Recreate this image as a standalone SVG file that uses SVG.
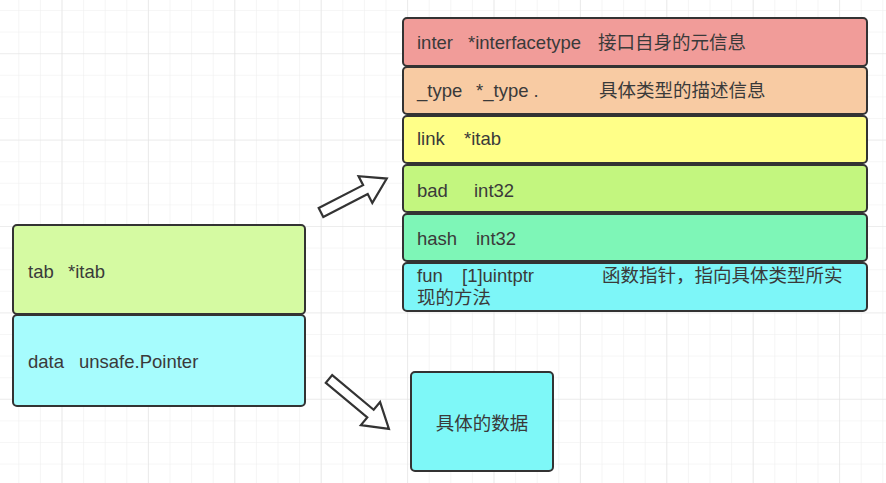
<svg xmlns="http://www.w3.org/2000/svg" width="886" height="483" viewBox="0 0 886 483">
<defs>
<pattern id="minor" x="18.3" y="10" width="21.6" height="21.6" patternUnits="userSpaceOnUse">
<path d="M0 0V21.6M0 0H21.6" fill="none" stroke="#eeeeee" stroke-width="1.2"/>
</pattern>
<pattern id="major" x="61.5" y="53.2" width="86.4" height="86.4" patternUnits="userSpaceOnUse">
<path d="M0 0V86.4M0 0H86.4" fill="none" stroke="#e3e3e3" stroke-width="1.2"/>
</pattern>
</defs>
<style>
.box{stroke:#333;stroke-width:2}
text{font-family:"Liberation Sans","Noto Sans CJK SC",sans-serif;font-size:18.5px;fill:#3a3a3a}
.arrow{fill:#fff;stroke:#333;stroke-width:2.2;stroke-linejoin:miter}
</style>
<rect width="886" height="483" fill="#fff"/>
<rect width="886" height="483" fill="url(#minor)"/>
<rect width="886" height="483" fill="url(#major)"/>

<g id="itab">
<g id="inter">
<rect class="box" x="403" y="18" width="464" height="48" rx="4" fill="#F19C99"/>
<text y="49"><tspan x="417">inter</tspan><tspan x="468">*interfacetype</tspan><tspan x="598">接口自身的元信息</tspan></text>
</g>
<g id="type">
<rect class="box" x="403" y="67" width="464" height="47" rx="4" fill="#F8CBA3"/>
<text y="97"><tspan x="417">_type</tspan><tspan x="476">*_type .</tspan><tspan x="599">具体类型的描述信息</tspan></text>
</g>
<g id="link">
<rect class="box" x="403" y="116" width="464" height="47" rx="4" fill="#FFFF88"/>
<text y="145"><tspan x="417">link</tspan><tspan x="464">*itab</tspan></text>
</g>
<g id="bad">
<rect class="box" x="403" y="165" width="464" height="47" rx="4" fill="#C3F67F"/>
<text y="197"><tspan x="417">bad</tspan><tspan x="474">int32</tspan></text>
</g>
<g id="hash">
<rect class="box" x="403" y="214" width="464" height="47" rx="4" fill="#7EF6B7"/>
<text y="245"><tspan x="417">hash</tspan><tspan x="476">int32</tspan></text>
</g>
<g id="fun">
<rect class="box" x="403" y="263" width="464" height="48" rx="4" fill="#7DF6F8"/>
<text y="282"><tspan x="417">fun</tspan><tspan x="462">[1]uintptr</tspan><tspan x="602">函数指针，指向具体类型所实</tspan></text>
<text x="417" y="304">现的方法</text>
</g>
</g>

<g id="iface">
<g id="tab">
<rect class="box" x="13" y="225" width="292" height="89" rx="4" fill="#D5FAA2"/>
<text y="278"><tspan x="28">tab</tspan><tspan x="68">*itab</tspan></text>
</g>
<g id="data">
<rect class="box" x="13" y="315" width="292" height="91" rx="4" fill="#A6FCFD"/>
<text y="368"><tspan x="28">data</tspan><tspan x="79">unsafe.Pointer</tspan></text>
</g>
</g>

<g id="value">
<rect class="box" x="411" y="372" width="142" height="99" rx="4" fill="#7EF8F8"/>
<text x="482" y="430" text-anchor="middle">具体的数据</text>
</g>

<g id="connectors">
<polygon class="arrow" transform="translate(321,212.5) rotate(-27.3)" points="0,-5 50,-5 50,-15 74,0 50,15 50,5 0,5"/>
<polygon class="arrow" transform="translate(329,379) rotate(39.8)" points="0,-5 54,-5 54,-15 78,0 54,15 54,5 0,5"/>
</g>
</svg>
